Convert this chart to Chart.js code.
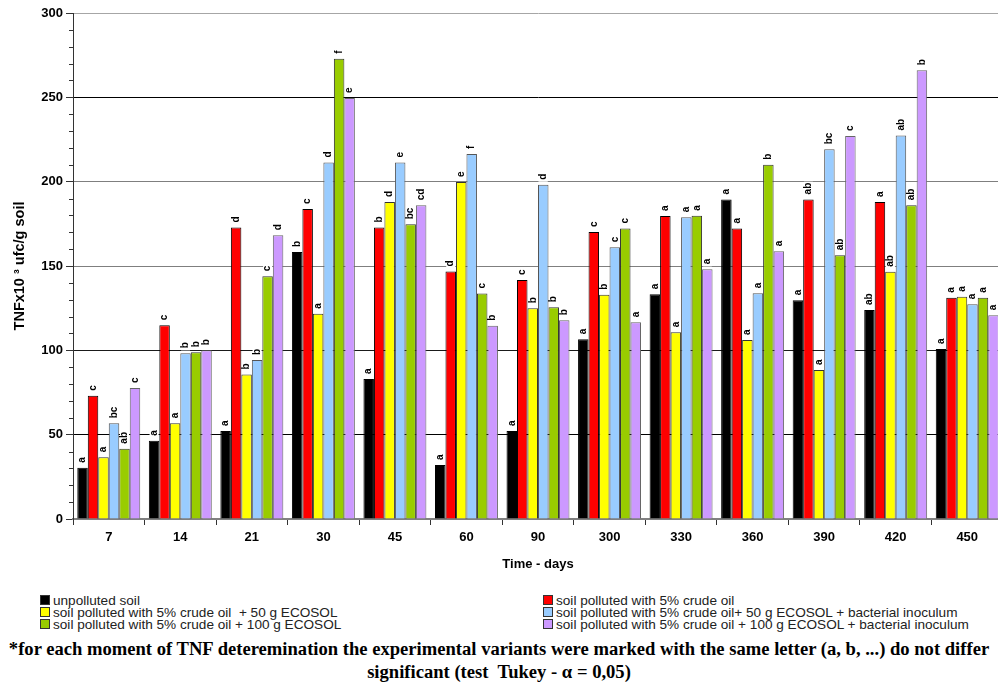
<!DOCTYPE html>
<html>
<head>
<meta charset="utf-8">
<script src="https://cdn.jsdelivr.net/npm/chart.js@4.4.1/dist/chart.umd.min.js"></script>
<style>
    html, body { margin: 0; padding: 0; background: #fff; overflow: hidden; width: 998px; height: 682px; }
    #wrap { position: absolute; left: 0; top: 0; width: 1003px; height: 580px; }
    #legend { position: absolute; top: 595px; left: 0; width: 998px; font-family: "Liberation Sans", Arial, sans-serif; font-size: 13.6px; color: #222; }
    .item { position: absolute; white-space: pre; line-height: 12px; height: 12px; }
    .box { display: inline-block; width: 8px; height: 8px; border: 1px solid #333; margin-right: 3px; vertical-align: 0px; }
    #note { position: absolute; top: 637px; left: 0; width: 998px; text-align: center; font-family: "Liberation Serif", "Times New Roman", serif; font-weight: bold; font-size: 18.6px; line-height: 23px; color: #000; white-space: nowrap; }
</style>
</head>
<body>
<div id="wrap"><canvas id="chart" width="1003" height="580"></canvas></div>
<div id="legend"></div>
<div id="note">*for each moment of TNF deteremination the experimental variants were marked with the same letter (a, b, ...) do not differ<br>significant (test&nbsp; Tukey - α = 0,05)</div>
<script>
// TNF over time - six soil variants

const days = ['7', '14', '21', '30', '45', '60', '90', '300', '330', '360', '390', '420', '450'];

const seriesNames = [
    'unpolluted soil',
    'soil polluted with 5% crude oil',
    'soil polluted with 5% crude oil  + 50 g ECOSOL',
    'soil polluted with 5% crude oil+ 50 g ECOSOL + bacterial inoculum',
    'soil polluted with 5% crude oil + 100 g ECOSOL',
    'soil polluted with 5% crude oil + 100 g ECOSOL + bacterial inoculum'
];
const seriesColors = ['#000000', '#ff0000', '#ffff00', '#99ccff', '#99cc00', '#cc99ff'];
const seriesBorders = ['#000000', '#000000', '#333333', '#555555', '#333333', '#666666'];

const unpolluted = [30.4, 46.4, 52.2, 158.3, 83.0, 32.0, 52.2, 106.5, 133.2, 189.5, 129.7, 123.9, 100.8];
const crudeOil = [73.1, 114.8, 172.9, 183.8, 172.9, 146.8, 141.7, 170.2, 179.6, 172.3, 189.5, 187.9, 131.2];
const oil50 = [36.6, 56.7, 85.6, 121.7, 187.9, 199.8, 124.9, 133.0, 110.7, 106.1, 88.3, 146.6, 131.8];
const oil50Bact = [56.7, 98.2, 94.3, 211.3, 211.3, 216.4, 198.2, 161.1, 178.9, 133.8, 219.2, 227.3, 127.3];
const oil100 = [41.7, 98.8, 143.9, 272.9, 174.7, 133.7, 125.5, 172.3, 179.8, 210.1, 156.3, 186.0, 131.2];
const oil100Bact = [77.7, 100.0, 168.2, 249.6, 186.0, 114.6, 117.8, 116.6, 148.0, 158.7, 227.1, 266.0, 120.8];

// Tukey letters, same order as the series
const lettersUnpolluted = ['a', 'a', 'a', 'b', 'a', 'a', 'a', 'a', 'a', 'a', 'a', 'ab', 'a'];
const lettersCrudeOil = ['c', 'c', 'd', 'c', 'b', 'd', 'c', 'c', 'a', 'a', 'ab', 'a', 'a'];
const lettersOil50 = ['a', 'a', 'b', 'a', 'd', 'e', 'b', 'b', 'a', 'a', 'a', 'ab', 'a'];
const lettersOil50Bact = ['bc', 'b', 'b', 'd', 'e', 'f', 'd', 'c', 'a', 'a', 'bc', 'ab', 'a'];
const lettersOil100 = ['ab', 'b', 'c', 'f', 'bc', 'c', 'b', 'c', 'a', 'b', 'ab', 'ab', 'a'];
const lettersOil100Bact = ['c', 'b', 'd', 'e', 'cd', 'b', 'b', 'a', 'a', 'a', 'c', 'b', 'a'];

const yTicks = [0, 50, 100, 150, 200, 250, 300];

const seriesData = [unpolluted, crudeOil, oil50, oil50Bact, oil100, oil100Bact];
const seriesLetters = [lettersUnpolluted, lettersCrudeOil, lettersOil50, lettersOil50Bact, lettersOil100, lettersOil100Bact];

const gridColors = { 50: '#000000', 100: '#1a1a1a', 150: '#7f7f7f', 200: '#7f7f7f', 250: '#000000', 300: '#a6a6a6' };

// letters above the bars, rotated, on a small white patch
const letterPlugin = {
    id: 'letters',
    afterDatasetsDraw(chart) {
        const ctx = chart.ctx;
        ctx.save();
        ctx.font = 'bold 10px "Liberation Sans", Arial, sans-serif';
        ctx.textAlign = 'left';
        ctx.textBaseline = 'middle';
        chart.data.datasets.forEach((ds, i) => {
            const meta = chart.getDatasetMeta(i);
            meta.data.forEach((bar, j) => {
                const txt = seriesLetters[i][j];
                const w = ctx.measureText(txt).width;
                ctx.save();
                ctx.translate(bar.x, bar.y - 5);
                ctx.rotate(-Math.PI / 2);
                ctx.fillStyle = '#fff';
                ctx.fillRect(-2, -4.5, w + 3, 9);
                ctx.fillStyle = '#000';
                ctx.fillText(txt, 0, 0);
                ctx.restore();
            });
        });
        ctx.restore();
    }
};

// minor ticks on the value axis
const minorTicks = {
    id: 'minorTicks',
    afterDraw(chart) {
        const y = chart.scales.y;
        const ctx = chart.ctx;
        ctx.save();
        ctx.strokeStyle = '#333';
        ctx.lineWidth = 1;
        for (let v = 10; v < 300; v += 10) {
            if (v % 50 === 0) continue;
            const py = Math.round(y.getPixelForValue(v)) + 0.5;
            ctx.beginPath();
            ctx.moveTo(y.right - 4, py);
            ctx.lineTo(y.right, py);
            ctx.stroke();
        }
        ctx.restore();
    }
};

const chart = new Chart(document.getElementById('chart'), {
    type: 'bar',
    data: {
        labels: days,
        datasets: seriesData.map((d, i) => ({
            label: seriesNames[i],
            data: d,
            backgroundColor: seriesColors[i],
            borderColor: seriesBorders[i],
            borderWidth: 1,
            borderSkipped: 'bottom',
            barPercentage: 1.0,
            categoryPercentage: 0.88
        }))
    },
    options: {
        responsive: false,
        animation: false,
        devicePixelRatio: 1,
        layout: { padding: { top: 13, left: 0, right: 0, bottom: 0 } },
        plugins: {
            legend: { display: false },
            tooltip: { enabled: false }
        },
        scales: {
            x: {
                grid: { drawOnChartArea: false, tickColor: '#333', tickLength: 6, offset: true },
                border: { color: '#808080', width: 2 },
                ticks: {
                    color: '#000',
                    padding: 5,
                    font: { family: '"Liberation Sans", Arial, sans-serif', size: 13, weight: 'bold' }
                },
                title: {
                    display: true,
                    text: 'Time - days',
                    color: '#000',
                    padding: { top: 0, bottom: 8 },
                    font: { family: '"Liberation Sans", Arial, sans-serif', size: 13, weight: 'bold' }
                },
                afterFit(scale) { scale.height = 61; }
            },
            y: {
                min: 0,
                max: 300,
                afterBuildTicks(scale) { scale.ticks = yTicks.map(v => ({ value: v })); },
                grid: {
                    color: ctx => gridColors[ctx.tick.value] || 'rgba(0,0,0,0)',
                    tickColor: '#333',
                    tickLength: 7,
                    lineWidth: 1
                },
                border: { color: '#333', width: 1 },
                ticks: {
                    color: '#000',
                    padding: 3,
                    font: { family: '"Liberation Sans", Arial, sans-serif', size: 13, weight: 'bold' }
                },
                title: {
                    display: true,
                    text: 'TNFx10 ³ ufc/g soil',
                    color: '#000',
                    padding: { top: 11, bottom: 0 },
                    font: { family: '"Liberation Sans", Arial, sans-serif', size: 14.5, weight: 'bold' }
                },
                afterFit(scale) { scale.width = 73; }
            }
        }
    },
    plugins: [letterPlugin, minorTicks]
});

// two column legend, odd series left, even series right
const legend = document.getElementById('legend');
seriesNames.forEach((name, i) => {
    const item = document.createElement('div');
    item.className = 'item';
    item.style.left = (i % 2 === 0 ? 40 : 543) + 'px';
    item.style.top = (Math.floor(i / 2) * 12) + 'px';
    const box = document.createElement('span');
    box.className = 'box';
    box.style.background = seriesColors[i];
    item.appendChild(box);
    item.appendChild(document.createTextNode(name));
    legend.appendChild(item);
});
</script>
</body>
</html>
